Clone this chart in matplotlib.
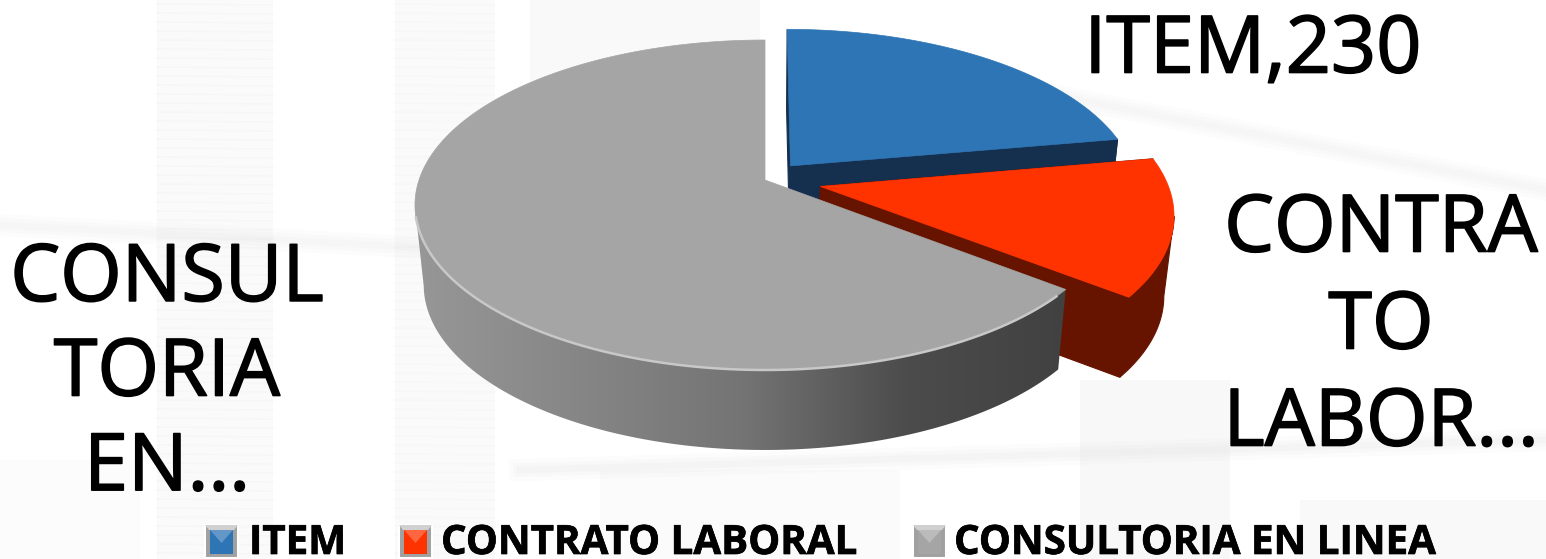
import numpy as np
import matplotlib
matplotlib.use("Agg")
import matplotlib.pyplot as plt
import matplotlib.patheffects as pe
from matplotlib.colors import LinearSegmentedColormap
from matplotlib.patches import Polygon, Rectangle

categories = ["ITEM", "CONTRATO LABORAL", "CONSULTORIA EN LINEA"]
values = [230, 138, 667]
explode = [0.116, 0.164, 0.0]
top_colors = ["#2e75b6", "#ff3300", "#a5a5a5"]
wall_colors = ["#152f4f", "#661400", "#808080"]
swatch_x = [205, 399, 913]
legend_x = [249, 441, 954]

# pie geometry in pixels
CX, CY = 765, 180
RX, RY, K = 346, 161.2, 0.1515
DEPTH = 80

plt.rcParams["font.family"] = ["Open Sans", "DejaVu Sans"]

fig = plt.figure(figsize=(15.46, 5.59), dpi=100)
ax = fig.add_axes([0, 0, 1, 1])


def project(u, v):
    w = 1 - K * v
    return CX + RX * u / w, CY + RY * v / w


def lower(x, y):
    return CX + (x - CX) * 0.975, y + DEPTH


def slice_points(t0, t1, e):
    mid = (t0 + t1) / 2
    ou, ov = e * np.sin(mid), -e * np.cos(mid)
    t = np.linspace(t0, t1, 200)
    ax_, ay_ = project(ou, ov)
    x, y = project(ou + np.sin(t), ov - np.cos(t))
    return (ax_, ay_), x, y


def background():
    for x0, x1, y0, y1, c in [(157, 273, 0, 559, "#fafafa"), (395, 495, 0, 559, "#fafafa"),
                              (530, 760, 0, 120, "#f9f9f9"), (600, 900, 470, 559, "#fbfbfb"),
                              (1080, 1230, 380, 559, "#f8f8f8"), (1300, 1546, 500, 559, "#f9f9f9"),
                              (0, 140, 460, 559, "#fcfcfc")]:
        ax.add_patch(Rectangle((x0, y0), x1 - x0, y1 - y0, fc=c, ec="none", zorder=0))
    for y in range(4, 559, 9):
        ax.plot([157, 273], [y, y + 1], color="#f6f6f6", lw=1, zorder=0.1)
        ax.plot([395, 495], [y, y + 1], color="#f7f7f7", lw=1, zorder=0.1)
    # soft diagonal bands of the washed-out photo
    for lw, a in [(16, 0.06), (10, 0.07), (5, 0.08)]:
        ax.plot([0, 560], [225, 255], color="#d8d8d8", lw=lw, alpha=a, zorder=0.2)
        ax.plot([1000, 1546], [85, 190], color="#d8d8d8", lw=lw, alpha=a, zorder=0.2)
        ax.plot([520, 1546], [470, 440], color="#d0d0d0", lw=lw, alpha=a, zorder=0.2)


background()

# start clockwise from 12 o'clock, same order as the values
angles = np.concatenate([[0], np.cumsum(values) / np.sum(values) * 2 * np.pi])
shapes = [slice_points(angles[i], angles[i + 1], explode[i]) for i in range(len(values))]

wall_ramp = LinearSegmentedColormap.from_list(
    "wall", ["#979797", "#868686", "#747474", "#4c4c4c", "#414141"])

for i, (apex, x, y) in enumerate(shapes):
    z = 2 + i
    bx, by = lower(x, y)
    abx, aby = lower(*apex)
    if i < 2:
        # inner cut faces and outer rim, all one dark colour
        for quad in [[apex, (x[0], y[0]), (bx[0], by[0]), (abx, aby)],
                     [apex, (x[-1], y[-1]), (bx[-1], by[-1]), (abx, aby)]]:
            ax.add_patch(Polygon(quad, fc=wall_colors[i], ec=wall_colors[i], lw=0.8, zorder=z))
        # rim only from the widest point on, so the silhouette edge closes straight
        k = np.argmax(x)
        rim = np.vstack([np.c_[x[k:], y[k:]], np.c_[bx[k:], by[k:]][::-1]])
        ax.add_patch(Polygon(rim, fc=wall_colors[i], ec=wall_colors[i], lw=0.8, zorder=z))
    else:
        k = np.argmin(x)
        rim = np.vstack([np.c_[x[:k + 1], y[:k + 1]], np.c_[bx[:k + 1], by[:k + 1]][::-1]])
        clip = Polygon(rim, fc="none", ec="none", transform=ax.transData)
        ax.add_patch(clip)
        img = ax.imshow(np.linspace(0, 1, 256).reshape(1, -1), cmap=wall_ramp, aspect="auto",
                        extent=(415, 1070, 460, 200), zorder=z, interpolation="bilinear")
        img.set_clip_path(clip)
    ax.add_patch(Polygon(np.vstack([[apex], np.c_[x, y]]), fc=top_colors[i], ec=top_colors[i],
                         lw=0.5, zorder=z + 0.1))
    if i == 2:
        # light bevel on the front edge of the big slice
        front = (x < 1060) & (y > 215)
        ax.plot(x[front], y[front], color="#c8c8c8", lw=1.8, zorder=z + 0.2, solid_capstyle="butt")

ax.set_xlim(0, 1546)
ax.set_ylim(559, 0)
ax.axis("off")

heavy = [pe.withStroke(linewidth=1.2, foreground="black")]
ax.text(1253, 52, "ITEM,230", fontsize=57, ha="center", va="center", color="black", zorder=10,
        path_effects=heavy)
ax.text(1381, 328, "CONTRA\nTO\nLABOR...", fontsize=57, ha="center", va="center",
        color="black", linespacing=1.3, zorder=10, path_effects=heavy)
ax.text(167, 375, "CONSUL\nTORIA\nEN...", fontsize=57, ha="center", va="center",
        color="black", linespacing=1.26, zorder=10, path_effects=heavy)

# legend with bevelled swatches
for name, c, sx, tx in zip(categories, top_colors, swatch_x, legend_x):
    ax.add_patch(Rectangle((sx, 525), 33, 33, fc="#a0a0a0", ec="white", lw=1.5, zorder=10))
    ax.add_patch(Polygon([(sx, 525), (sx + 33, 525), (sx + 29, 530), (sx + 4, 530)], fc="#d0d0d0",
                         ec="none", zorder=10.5))
    ax.add_patch(Rectangle((sx + 5, 530), 23, 24, fc=c, ec="none", zorder=11))
    ax.add_patch(Polygon([(sx + 5, 530), (sx + 28, 530), (sx + 16.5, 543)], fc="white",
                         alpha=0.25, ec="none", zorder=12))
    ax.text(tx, 554, name, fontsize=29, fontweight="bold", ha="left", va="baseline",
            color="black", zorder=12, path_effects=[pe.withStroke(linewidth=0.5, foreground="black")])

fig.savefig("out.png", dpi=100)
